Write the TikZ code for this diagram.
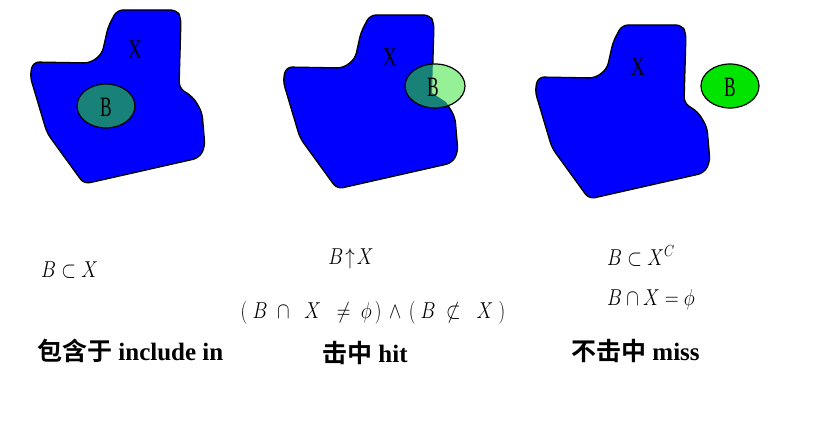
\RequirePackage{fix-cm}
\documentclass[tikz,border=0pt]{standalone}
\usepackage{fontspec}
\setmainfont{Liberation Serif}
\newfontfamily\cjk{Noto Sans CJK SC}[BoldFont={* Bold}]
\definecolor{xblue}{RGB}{0,0,255}
\definecolor{bteal}{RGB}{24,130,120}
\definecolor{blight}{RGB}{150,240,150}
\definecolor{bgreen}{RGB}{0,228,0}
\tikzset{
  blob/.style={fill=xblue,draw=black,line width=1.3pt,rounded corners=6pt},
  bset/.style={draw=black,line width=1.2pt},
  xlab/.style={font=\fontsize{27}{27}\selectfont,xscale=0.72,inner sep=0pt},
  blab/.style={font=\fontsize{28}{28}\selectfont,xscale=0.62,inner sep=0pt},
  mathlab/.style={font=\fontsize{23}{23}\selectfont,inner sep=0pt,xscale=0.82},
  caption/.style={font=\fontsize{25}{25}\selectfont\bfseries,inner sep=0pt}
}
\newcommand\blobshape{(117,10) -- (177,10) -- (181,18) -- (179,88) -- (193,97) -- (202,112) -- (205,147) -- (199,158) -- (84,184) -- (47,133) -- (30,76) -- (33,62) -- (90,63) -- (102,54) -- (108,27) -- cycle}
\begin{document}
\begin{tikzpicture}[x=1pt,y=-1pt]
\useasboundingbox (0,0) rectangle (815,435);
% panel 1
\begin{scope}
  \path[blob] \blobshape;
\end{scope}
\path[bset,fill=bteal] (106,106) ellipse [x radius=29,y radius=22];
\node[xlab] (x1) at (135,50) {X};
\node[blab] (b1) at (106,107) {B};
% panel 2
\begin{scope}[shift={(253,5)}]
  \path[blob] \blobshape;
\end{scope}
\path[fill=blight] (435,86) ellipse [x radius=30,y radius=22];
\begin{scope}
  \clip[shift={(253,5)}] \blobshape;
  \path[fill=bteal] (435,86) ellipse [x radius=30,y radius=22];
\end{scope}
\path[bset] (435,86) ellipse [x radius=30,y radius=22];
\node[xlab] (x2) at (390,58) {X};
\node[blab] (b2) at (433,87) {B};
% panel 3
\begin{scope}[shift={(505,15)}]
  \path[blob] \blobshape;
\end{scope}
\path[bset,fill=bgreen] (730,86) ellipse [x radius=29,y radius=22];
\node[xlab] (x3) at (638,67) {X};
\node[blab] (b3) at (730,87) {B};
% formulas
\node[mathlab,anchor=west] (f1) at (41,270) {$B\subset X$};
\node[mathlab] (f2) at (351,259) {$B\!\uparrow\!X$};
\node[mathlab] (f3) at (373,313) {$(\;B\;\cap\;\;X\;\;\neq\;\phi\,)\,\wedge\,(\;B\;\not\subset\;\;X\;)$};
\node[mathlab,anchor=west] (f4) at (607,256) {$B\subset X^{C}$};
\node[mathlab,anchor=west] (f5) at (607,300) {$B\cap X=\phi$};
% captions
\node[caption,anchor=west] (c1) at (37,351) {{\cjk\bfseries 包含于} include in};
\node[caption,anchor=west] (c2) at (322,353) {{\cjk\bfseries 击中} hit};
\node[caption,anchor=west] (c3) at (571,351) {{\cjk\bfseries 不击中} miss};
\end{tikzpicture}
\end{document}
